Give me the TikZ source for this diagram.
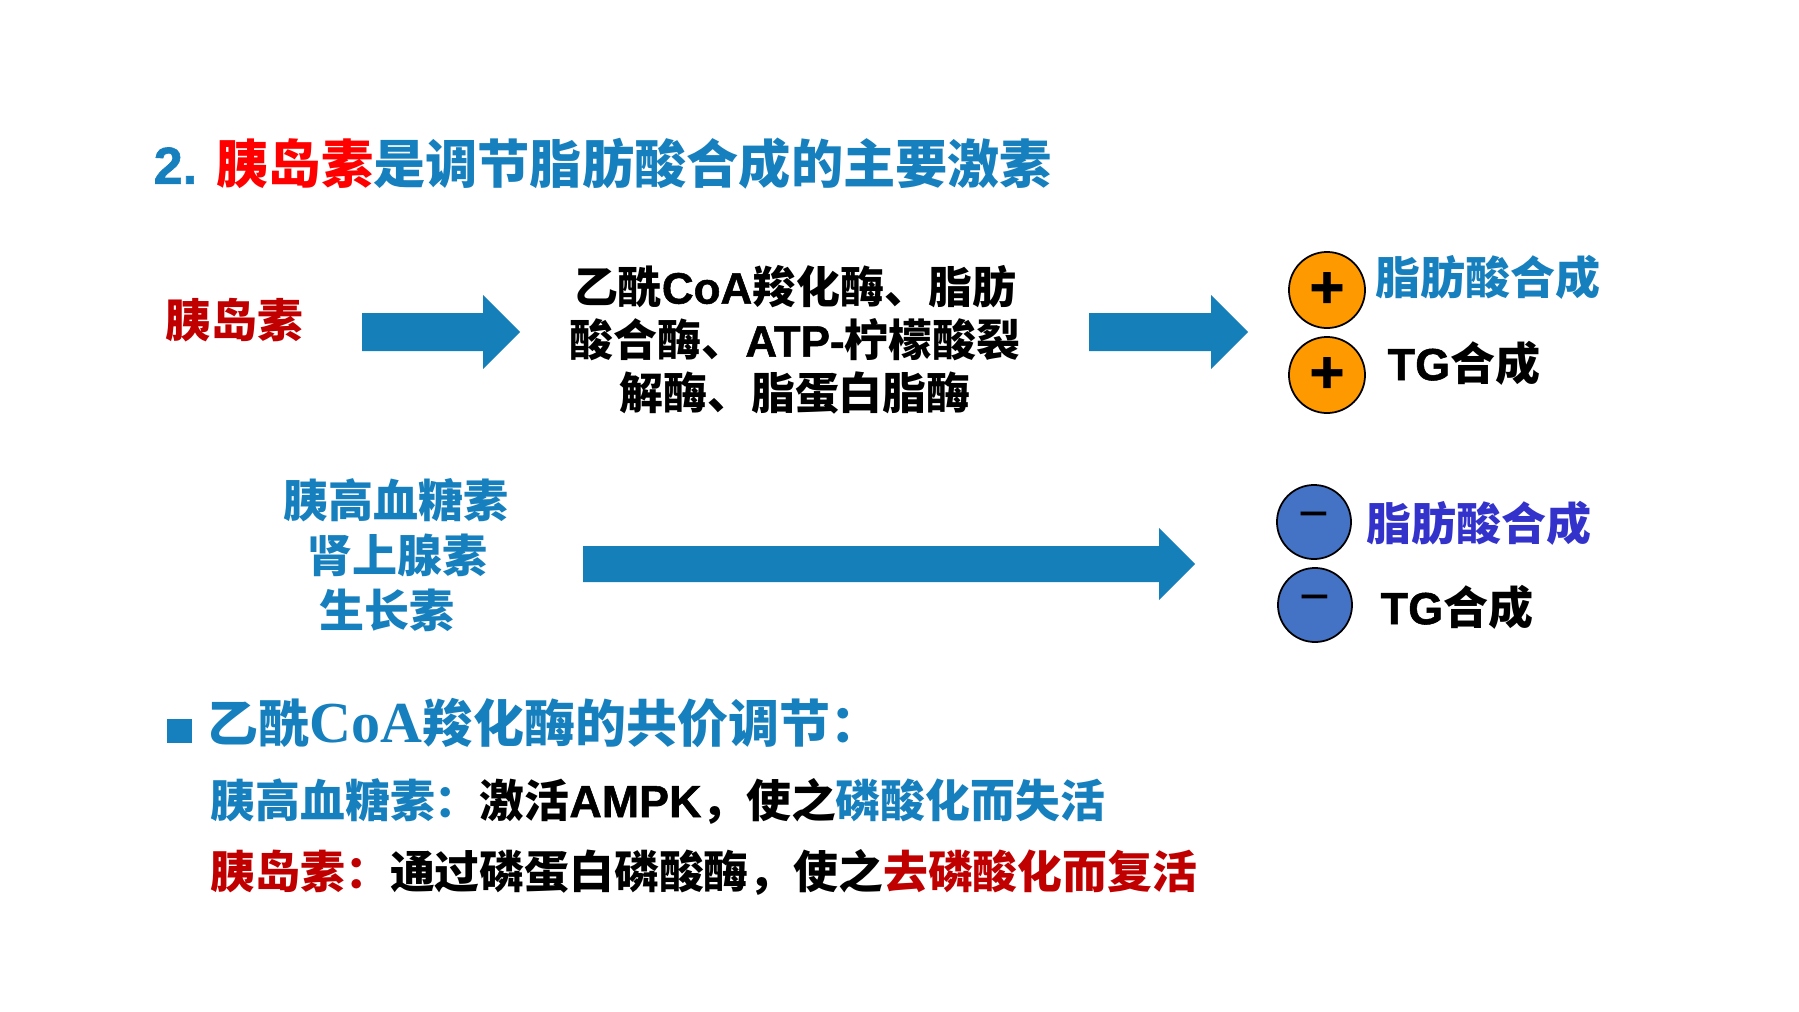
\documentclass[tikz,border=0pt]{standalone}
\usepackage{fontspec}
\setmainfont{Liberation Sans}[BoldFont={Liberation Sans Bold}, BoldFeatures={FakeBold=1.2}]
\newfontfamily\zhfont{Noto Sans CJK SC}
\newfontfamily\serifb{Liberation Serif}[BoldFont={Liberation Serif Bold}]
\newcommand\zh[1]{{\zhfont #1}}
\definecolor{blueT}{RGB}{22,127,189}
\definecolor{redT}{RGB}{255,0,0}
\definecolor{darkredT}{RGB}{192,0,0}
\definecolor{arrowblue}{RGB}{21,127,185}
\definecolor{orangeC}{RGB}{255,153,0}
\definecolor{blueC}{RGB}{68,114,196}
\definecolor{purpleT}{RGB}{51,51,204}
\tikzset{
  txt/.style={inner sep=0pt, anchor=west, font=\fontsize{12.8pt}{15pt}\selectfont\bfseries},
  pluscirc/.style={circle, draw=black, line width=0.5pt, fill=orangeC, minimum size=0.76cm, inner sep=0pt, font=\fontsize{17pt}{17pt}\selectfont\bfseries},
  minuscirc/.style={circle, draw=black, line width=0.5pt, fill=blueC, minimum size=0.74cm, inner sep=0pt, font=\fontsize{15pt}{15pt}\selectfont},
}
\newcommand\blockarrow[6]{% x1, xb, xt, yc, halfbody, halfhead
  \fill[arrowblue] (#1,#4-#5) -- (#2,#4-#5) -- (#2,#4-#6) -- (#3,#4) -- (#2,#4+#6) -- (#2,#4+#5) -- (#1,#4+#5) -- cycle;}
\begin{document}
\begin{tikzpicture}[x=0.01cm, y=-0.01cm]
\useasboundingbox (0,0) rectangle (1799,1012);
% title
\node[txt, font=\fontsize{14.85pt}{18pt}\selectfont\bfseries, text=blueT] (title) at (153,164)
  {2. \zh{\textcolor{redT}{胰岛素}是调节脂肪酸合成的主要激素}};
% row 1
\node[txt, text=darkredT, font=\fontsize{13pt}{15pt}\selectfont\bfseries] (ins) at (165,320) {\zh{胰岛素}};
\blockarrow{362}{483}{520}{332}{19}{37}
\node[inner sep=0pt, align=center, font=\fontsize{12.5pt}{15.1pt}\selectfont\bfseries] (enz) at (795,340)
  {\zh{乙酰}CoA\zh{羧化酶、脂肪}\\\zh{酸合酶、}ATP-\zh{柠檬酸裂}\\\zh{解酶、脂蛋白脂酶}};
\blockarrow{1089}{1211}{1248}{332}{19}{37}
\node[pluscirc] (p1) at (1327,290) {+};
\node[pluscirc] (p2) at (1327,375) {+};
\node[txt, text=blueT] (fa1) at (1375,277) {\zh{脂肪酸合成}};
\node[txt] (tg1) at (1387,363) {TG\zh{合成}};
% row 2
\node[txt, text=blueT] (g1) at (283,500) {\zh{胰高血糖素}};
\node[txt, text=blueT] (g2) at (307,555) {\zh{肾上腺素}};
\node[txt, text=blueT] (g3) at (319,610) {\zh{生长素}};
\blockarrow{583}{1159}{1195}{564}{18}{36}
\node[minuscirc] (m1) at (1314,522) {−};
\node[minuscirc] (m2) at (1315,605) {−};
\node[txt, text=purpleT] (fa2) at (1366,523) {\zh{脂肪酸合成}};
\node[txt] (tg2) at (1380,607) {TG\zh{合成}};
% bottom
\fill[blueT] (167,719) rectangle (192,743);
\node[txt, text=blueT, font=\fontsize{14.5pt}{17pt}\selectfont\bfseries] (acc) at (207,723)
  {\zh{乙酰}{\serifb\fontsize{16.5pt}{17pt}\selectfont CoA}\zh{羧化酶的共价调节：}};
\node[txt, font=\fontsize{12.75pt}{15pt}\selectfont\bfseries] (l2) at (210,801)
  {\textcolor{blueT}{\zh{胰高血糖素：}}\zh{激活}AMPK\zh{，使之}\textcolor{blueT}{\zh{磷酸化而失活}}};
\node[txt, font=\fontsize{12.75pt}{15pt}\selectfont\bfseries] (l3) at (210,872)
  {\textcolor{darkredT}{\zh{胰岛素：}}\zh{通过磷蛋白磷酸酶，使之}\textcolor{darkredT}{\zh{去磷酸化而复活}}};
\end{tikzpicture}
\end{document}
